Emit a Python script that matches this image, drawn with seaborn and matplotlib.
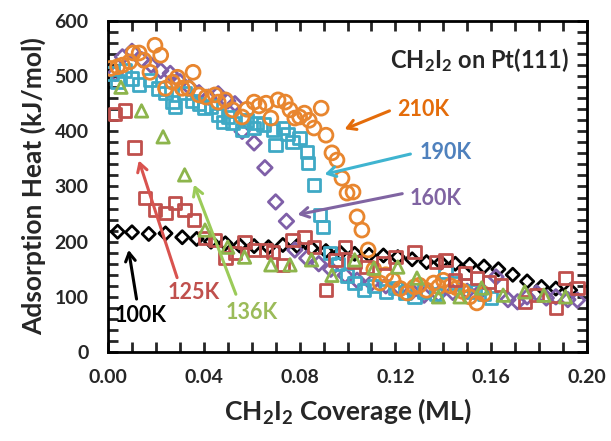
import numpy as np
import matplotlib
matplotlib.use("Agg")
import matplotlib.pyplot as plt
import seaborn as sns

# 100K - black diamonds
x_100 = [0.004, 0.010, 0.017, 0.024, 0.031, 0.037, 0.043, 0.049, 0.055, 0.061, 0.067, 0.073,
         0.079, 0.085, 0.091, 0.097, 0.103, 0.109, 0.115, 0.121, 0.127, 0.133, 0.139, 0.145,
         0.151, 0.157, 0.163, 0.169, 0.175, 0.181, 0.187, 0.193]
y_100 = [218, 217, 214, 215, 208, 205, 200, 197, 193, 192, 190, 194,
         192, 188, 183, 180, 178, 176, 175, 172, 168, 163, 162, 160,
         158, 155, 150, 140, 128, 118, 115, 112]

# 125K - red squares
x_125 = [0.003, 0.007, 0.011, 0.0155, 0.0196, 0.024, 0.028, 0.032, 0.036, 0.0405, 0.0447, 0.049,
         0.053, 0.057, 0.061, 0.066, 0.069, 0.073, 0.077, 0.082, 0.086, 0.091, 0.095, 0.099,
         0.103, 0.108, 0.115, 0.120, 0.128, 0.137, 0.141, 0.145, 0.149, 0.154, 0.159, 0.164,
         0.174, 0.179, 0.187, 0.191, 0.196]
y_125 = [431, 438, 371, 279, 257, 252, 270, 257, 239, 207, 203, 170,
         179, 199, 185, 185, 181, 158, 203, 208, 190, 112, 167, 190,
         163, 154, 161, 172, 181, 163, 167, 130, 143, 134, 127, 121,
         91, 103, 80, 134, 116]

# 136K - green triangles
x_136 = [0.0054, 0.014, 0.023, 0.032, 0.0405, 0.050, 0.057, 0.068, 0.076, 0.085, 0.0935, 0.103,
         0.111, 0.121, 0.129, 0.138, 0.147, 0.156, 0.165, 0.174, 0.182, 0.191]
y_136 = [480, 437, 390, 321, 221, 190, 172, 158, 158, 167, 139, 167,
         152, 154, 134, 100, 100, 116, 103, 109, 103, 100]

# 160K - purple diamonds
x_160 = [0.003, 0.006, 0.010, 0.014, 0.018, 0.022, 0.026, 0.030, 0.034, 0.038, 0.042, 0.046,
         0.050, 0.053, 0.056, 0.061, 0.0655, 0.070, 0.0745, 0.078, 0.083, 0.088, 0.093, 0.099,
         0.104, 0.110, 0.116, 0.122, 0.127, 0.132, 0.138, 0.144, 0.150, 0.156, 0.162, 0.167,
         0.171, 0.175, 0.179, 0.183, 0.187, 0.192, 0.196]
y_160 = [505, 535, 545, 530, 520, 510, 505, 490, 480, 470, 462, 468,
         455, 450, 400, 379, 334, 272, 237, 185, 170, 160, 150, 139,
         130, 125, 120, 115, 110, 103, 105, 108, 110, 112, 136, 95,
         91, 100, 107, 98, 100, 95, 94]

# 190K - cyan squares
x_190 = [0.0017, 0.004, 0.007, 0.010, 0.013, 0.0175, 0.021, 0.024, 0.027, 0.028, 0.032, 0.035,
         0.038, 0.040, 0.043, 0.046, 0.048, 0.050, 0.052, 0.056, 0.058, 0.061, 0.062, 0.065,
         0.069, 0.070, 0.073, 0.075, 0.077, 0.080, 0.083, 0.0835, 0.086, 0.0885, 0.0898, 0.0927,
         0.096, 0.0998, 0.103, 0.107, 0.111, 0.116, 0.120, 0.124, 0.128, 0.132, 0.137, 0.141,
         0.145, 0.149, 0.153, 0.157, 0.160]
y_190 = [505, 490, 510, 496, 485, 493, 478, 470, 453, 444, 469, 455,
         450, 442, 445, 430, 417, 426, 415, 402, 420, 406, 415, 412,
         402, 375, 406, 395, 381, 388, 363, 343, 303, 248, 227, 179,
         160, 139, 125, 112, 120, 110, 116, 108, 100, 110, 105, 145,
         125, 121, 110, 105, 98]

# 210K - orange circles
x_210 = [0.001, 0.004, 0.006, 0.009, 0.0105, 0.013, 0.015, 0.0175, 0.0196, 0.022, 0.024, 0.027,
         0.029, 0.031, 0.0335, 0.0355, 0.038, 0.041, 0.0447, 0.046, 0.049, 0.052, 0.056, 0.058,
         0.061, 0.063, 0.066, 0.068, 0.071, 0.074, 0.076, 0.078, 0.080, 0.082, 0.084, 0.086,
         0.089, 0.091, 0.0935, 0.0956, 0.0977, 0.0998, 0.1023, 0.104, 0.106, 0.1086, 0.111, 0.1136,
         0.116, 0.119, 0.122, 0.125, 0.128, 0.130, 0.133, 0.136, 0.138, 0.140, 0.143, 0.1457,
         0.148, 0.151, 0.154, 0.157]
y_210 = [514, 517, 520, 526, 542, 542, 529, 507, 556, 538, 478, 489,
         498, 478, 478, 507, 466, 462, 466, 453, 457, 439, 426, 440,
         453, 446, 451, 424, 457, 453, 439, 424, 426, 433, 420, 406,
         442, 393, 361, 348, 315, 288, 290, 245, 221, 185, 150, 125,
         140, 130, 115, 107, 118, 121, 112, 125, 118, 130, 120, 116,
         110, 100, 89, 105]

sns.set_style("ticks")
plt.rcParams['font.family'] = ['Lato', 'DejaVu Sans']
plt.rcParams['font.weight'] = 'bold'
plt.rcParams['mathtext.fontset'] = 'custom'
plt.rcParams['mathtext.rm'] = 'Lato:bold'
plt.rcParams['mathtext.bf'] = 'Lato:bold'
plt.rcParams['mathtext.it'] = 'Lato:bold'
plt.rcParams['mathtext.default'] = 'bf'

fig = plt.figure(figsize=(6.11, 4.41), dpi=100)
ax = fig.add_axes([0.1768, 0.2018, 0.7839, 0.7506])

series = [
    (x_100, y_100, 'D', 'black', 45),
    (x_160, y_160, 'D', '#7F5FA8', 55),
    (x_190, y_190, 's', '#3FA9C5', 80),
    (x_210, y_210, 'o', '#E8862F', 100),
    (x_125, y_125, 's', '#C0504D', 80),
    (x_136, y_136, '^', '#8DB54C', 80),
]
for xs, ys, mk, col, size in series:
    sns.scatterplot(x=xs, y=ys, marker=mk, s=size, facecolors='none',
                    edgecolors=col, linewidths=2, ax=ax, zorder=3)

ax.set_xlim(0, 0.20)
ax.set_ylim(0, 600)
ax.set_xticks(np.arange(0, 0.201, 0.04))
ax.set_xticks(np.arange(0, 0.201, 0.01), minor=True)
ax.set_yticks(np.arange(0, 601, 100))
ax.set_yticks(np.arange(0, 601, 20), minor=True)
ax.set_xticklabels(['0.00', '0.04', '0.08', '0.12', '0.16', '0.20'])
ax.tick_params(which='both', direction='in', top=True, right=True, width=2,
               labelsize=14)
ax.tick_params(which='major', length=7)
ax.tick_params(which='minor', length=7)
ax.tick_params(axis='x', which='major', pad=12)
ax.tick_params(axis='y', which='major', pad=14)
for sp in ax.spines.values():
    sp.set_linewidth(2)
    sp.set_color('black')

ax.set_xlabel('CH$_2$I$_2$ Coverage (ML)', fontsize=19, fontweight='bold', labelpad=8)
ax.set_ylabel('Adsorption Heat (kJ/mol)', fontsize=19, fontweight='bold', labelpad=6)

ax.text(0.1925, 530, 'CH$_2$I$_2$ on Pt(111)', fontsize=17, fontweight='bold',
        ha='right', va='center')

# annotations: (text, text pos, tail, head, text colour, arrow colour, ha)
notes = [
    ('210K', (0.1207, 439), (0.1186, 439), (0.0977, 402), '#E46C0A', '#E46C0A', 'left'),
    ('190K', (0.130, 362), (0.1274, 360), (0.0893, 321), '#4F81BD', '#3FB4D0', 'left'),
    ('160K', (0.126, 279), (0.124, 288), (0.078, 248), '#8064A2', '#8064A2', 'left'),
    ('125K', (0.0359, 107), (0.0292, 130), (0.0125, 352), '#C0504D', '#D9534F', 'center'),
    ('136K', (0.060, 71), (0.0538, 100), (0.0355, 308), '#9BBB59', '#9BCB59', 'center'),
    ('100K', (0.0138, 67), (0.0121, 91), (0.0084, 190), 'black', 'black', 'center'),
]
for txt, tpos, tail, head, tcol, acol, ha in notes:
    ax.annotate('', xy=head, xytext=tail,
                arrowprops=dict(arrowstyle='->,head_length=0.6,head_width=0.35',
                                color=acol, lw=2.2), zorder=4)
    ax.text(tpos[0], tpos[1], txt, color=tcol, fontsize=15.5, fontweight='bold',
            ha=ha, va='center', zorder=5)

fig.savefig('out.png', dpi=100)
